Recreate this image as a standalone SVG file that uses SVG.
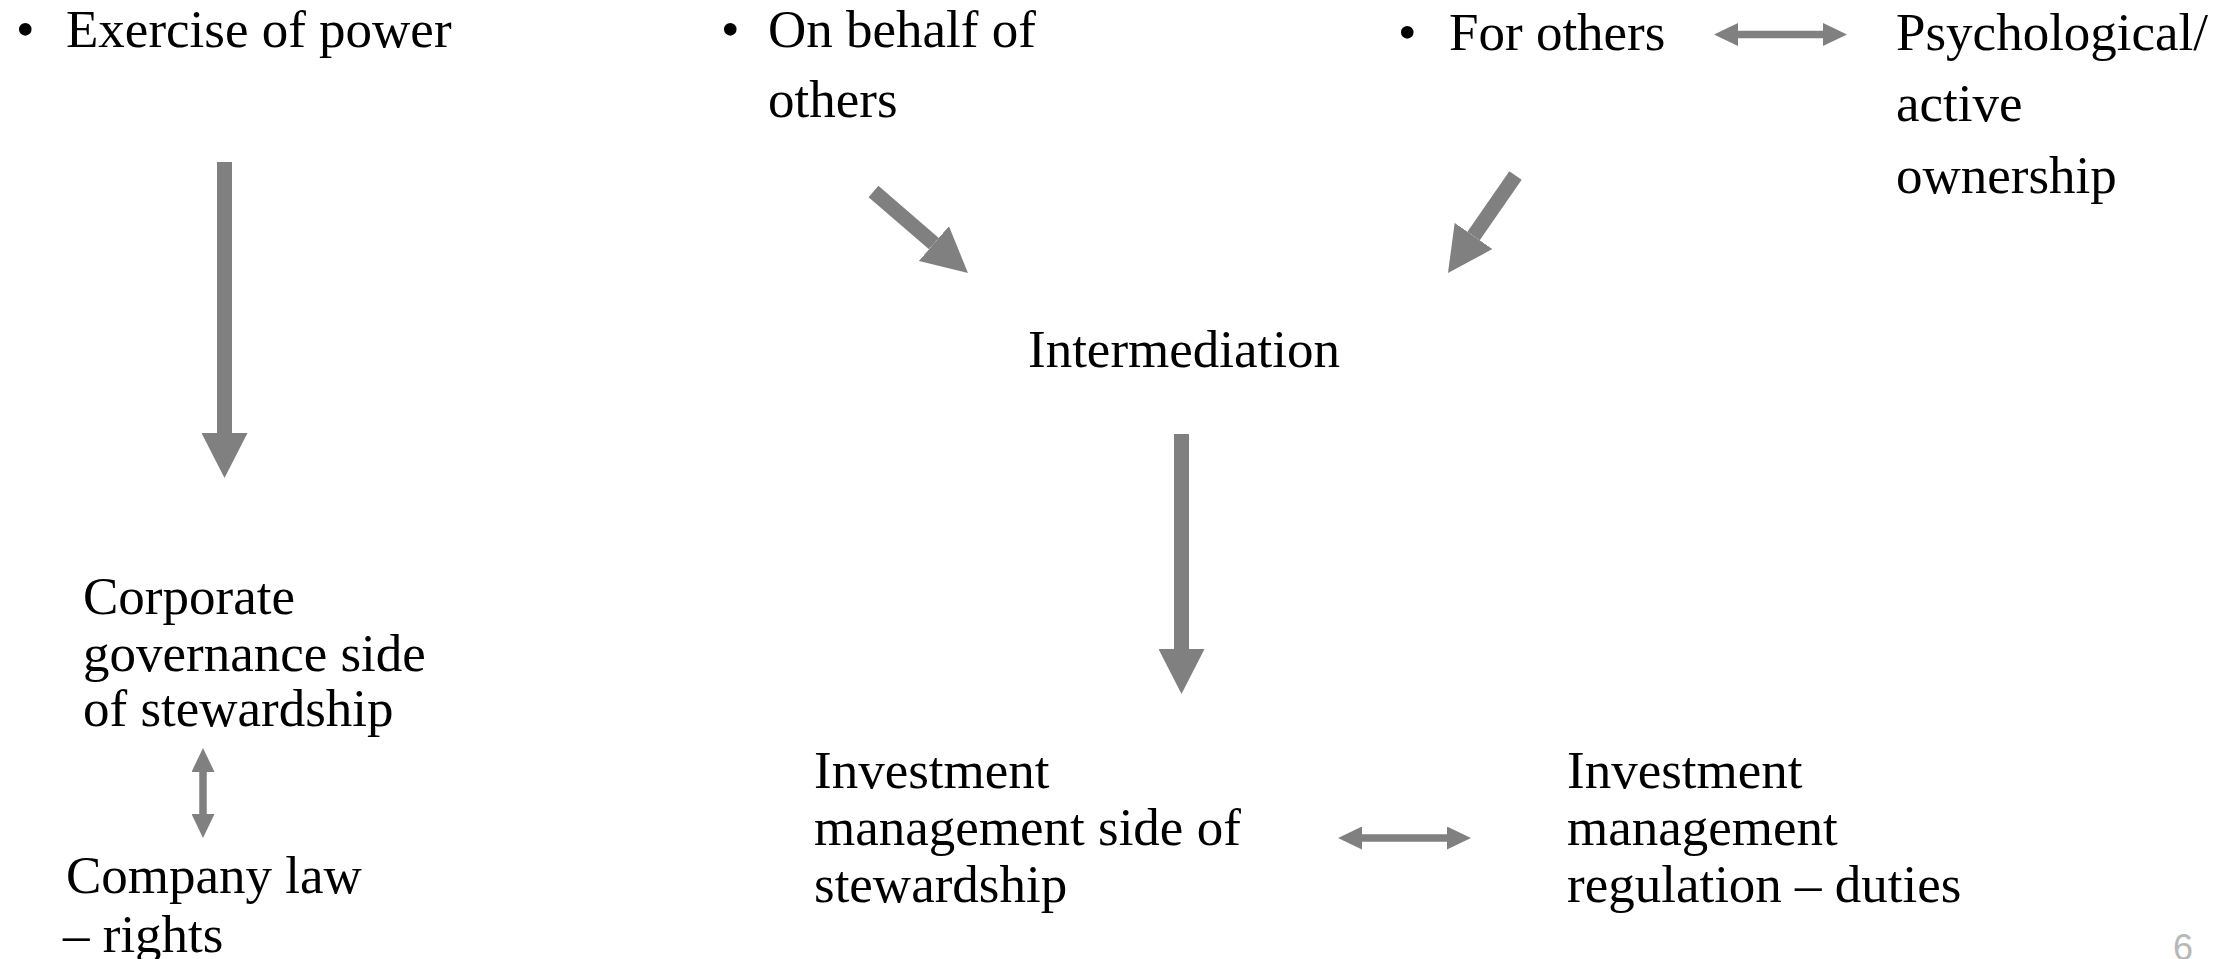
<svg xmlns="http://www.w3.org/2000/svg" width="2239" height="959" viewBox="0 0 2239 959">
<style>
  text { font-family: "Liberation Serif", "Times New Roman", serif; font-size: 53px; fill: #000; }
  .big { stroke: #808080; stroke-width: 15; fill: none; marker-end: url(#headBig); }
  .dbl { stroke: #808080; stroke-width: 7.5; fill: none; marker-start: url(#headSmall); marker-end: url(#headSmall); }
  .pgnum { font-family: "Liberation Sans", sans-serif; font-size: 36px; fill: #b8b8b8; }
</style>
<defs>
  <marker id="headBig" markerUnits="userSpaceOnUse" markerWidth="45" markerHeight="46" refX="0" refY="23" orient="auto">
    <path d="M0,0 L45,23 L0,46 z" fill="#808080"/>
  </marker>
  <marker id="headSmall" markerUnits="userSpaceOnUse" markerWidth="24" markerHeight="23" refX="0" refY="11.5" orient="auto-start-reverse">
    <path d="M0,0 L24,11.5 L0,23 z" fill="#808080"/>
  </marker>
</defs>
<rect width="2239" height="959" fill="#fff"/>

<g id="connectors">
  <line class="big" x1="224.5" y1="162" x2="224.5" y2="433"/>
  <line class="big" x1="873.5" y1="191.5" x2="933.9" y2="243.6"/>
  <line class="big" x1="1515.5" y1="175.5" x2="1473.6" y2="236"/>
  <line class="big" x1="1181.5" y1="434" x2="1181.5" y2="649"/>
  <line class="dbl" x1="1738" y1="34.5" x2="1823" y2="34.5"/>
  <line class="dbl" x1="1362" y1="838" x2="1447" y2="838"/>
  <line class="dbl" x1="203" y1="772" x2="203" y2="814"/>
</g>

<g id="exercise-of-power">
  <text x="16" y="47">•</text>
  <text x="66" y="47">Exercise of power</text>
</g>
<g id="on-behalf-of-others">
  <text x="721" y="47">•</text>
  <text x="768" y="47">On behalf of</text>
  <text x="768" y="117">others</text>
</g>
<g id="for-others">
  <text x="1398" y="50">•</text>
  <text x="1449" y="50">For others</text>
</g>
<g id="psychological-ownership">
  <text x="1896" y="50">Psychological/</text>
  <text x="1896" y="121">active</text>
  <text x="1896" y="193">ownership</text>
</g>
<g id="intermediation">
  <text x="1028" y="367">Intermediation</text>
</g>
<g id="corporate-governance">
  <text x="83" y="614">Corporate</text>
  <text x="83" y="671">governance side</text>
  <text x="83" y="726">of stewardship</text>
</g>
<g id="company-law">
  <text x="66" y="893">Company law</text>
  <text x="63" y="952">– rights</text>
</g>
<g id="investment-management-side">
  <text x="814" y="788">Investment</text>
  <text x="814" y="845">management side of</text>
  <text x="814" y="902">stewardship</text>
</g>
<g id="investment-management-regulation">
  <text x="1567" y="788">Investment</text>
  <text x="1567" y="845">management</text>
  <text x="1567" y="902">regulation – duties</text>
</g>
<g id="page-number">
  <text class="pgnum" x="2173" y="960">6</text>
</g>
</svg>
